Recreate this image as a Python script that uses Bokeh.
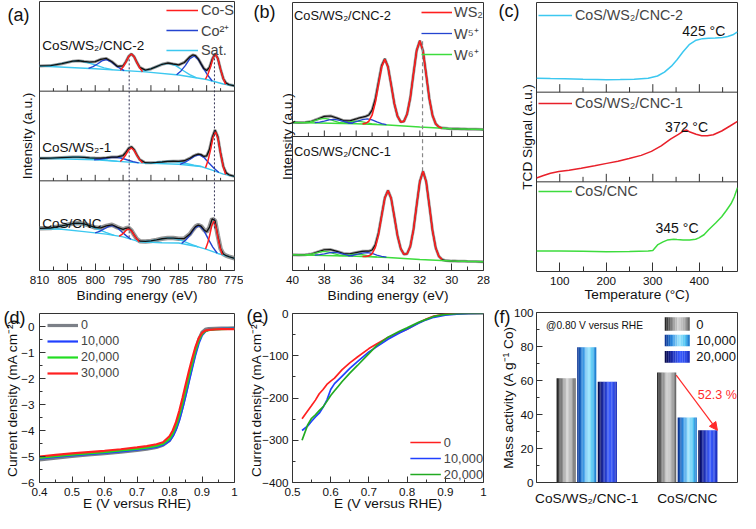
import numpy as np
from bokeh.plotting import figure
from bokeh.layouts import row, column
from bokeh.models import (Range1d, Span, Label, Legend, LegendItem, FixedTicker,
                          BoxAnnotation, Arrow, NormalHead, LinearAxis)
from bokeh.embed import file_html
from bokeh.resources import INLINE

# ============================ DATA ============================
# (a) Co 2p XPS - band-local intensity (each band spans 1 unit)
A_SAMPLES = ["CoS/CNC", "CoS/WS₂-1", "CoS/WS₂/CNC-2"]   # bottom -> top
A_XTICKS = [810, 805, 800, 795, 790, 785, 780, 775]
A_XMINOR = [807.5, 802.5, 797.5, 792.5, 787.5, 782.5, 777.5]
A_ENV_X = [810, 808, 806, 804, 803, 802, 801, 800, 799, 798, 797, 796, 795, 794.5, 794,
           793.5, 793, 792.5, 792, 791, 790, 789, 788, 787, 786, 785, 784, 783, 782.5, 782,
           781.5, 781, 780.5, 780, 779.5, 779, 778.5, 778, 777.5, 777, 776.5, 776, 775]
A_ENV_TOP = [0.282, 0.285, 0.306, 0.335, 0.339, 0.331, 0.324, 0.329, 0.355, 0.365,
             0.328, 0.276, 0.281, 0.328, 0.387, 0.415, 0.383, 0.319, 0.265, 0.235,
             0.248, 0.274, 0.300, 0.314, 0.303, 0.293, 0.320, 0.384, 0.404, 0.396,
             0.360, 0.305, 0.252, 0.230, 0.265, 0.356, 0.418, 0.367, 0.243, 0.138,
             0.089, 0.073, 0.060]
A_ENV_MID = [0.252, 0.253, 0.259, 0.265, 0.265, 0.262, 0.257, 0.254, 0.253, 0.258,
             0.265, 0.266, 0.282, 0.318, 0.363, 0.380, 0.347, 0.286, 0.236, 0.202,
             0.201, 0.205, 0.210, 0.216, 0.219, 0.218, 0.224, 0.252, 0.272, 0.288,
             0.297, 0.292, 0.272, 0.278, 0.348, 0.482, 0.567, 0.493, 0.311, 0.159,
             0.089, 0.067, 0.050]
A_ENV_BOT = [0.470, 0.474, 0.497, 0.524, 0.529, 0.520, 0.500, 0.479, 0.475, 0.497,
             0.510, 0.481, 0.459, 0.471, 0.476, 0.447, 0.395, 0.349, 0.327, 0.324,
             0.330, 0.341, 0.354, 0.362, 0.362, 0.355, 0.356, 0.407, 0.451, 0.490,
             0.507, 0.494, 0.455, 0.431, 0.480, 0.577, 0.556, 0.390, 0.243, 0.184,
             0.165, 0.154, 0.136]
A_BG_TOP_X = [810, 800, 791, 785, 780, 777, 775]
A_BG_TOP = [0.28, 0.25, 0.215, 0.18, 0.13, 0.08, 0.06]
A_BG_MID_X = [810, 800, 792, 785, 781, 779, 777, 775]
A_BG_MID = [0.25, 0.235, 0.20, 0.185, 0.16, 0.12, 0.075, 0.05]
A_BG_BOT_X = [810, 806, 802, 798, 795, 792, 788, 785, 782, 780, 778, 776, 775]
A_BG_BOT = [0.469, 0.46, 0.433, 0.406, 0.375, 0.32, 0.31, 0.307, 0.271, 0.235, 0.19, 0.154, 0.136]

A_SAT_TOP_X = [[808.9, 807.4, 805.9, 804.4, 802.9, 801.4, 799.9, 798.4, 796.9],
               [791.8, 790.55, 789.3, 788.05, 786.8, 785.55, 784.3, 783.05, 781.8]]
A_SAT_TOP = [[0.28, 0.29, 0.31, 0.33, 0.34, 0.32, 0.29, 0.26, 0.24],
             [0.218, 0.237, 0.265, 0.299, 0.31, 0.284, 0.233, 0.185, 0.148]]
A_CO2_TOP_X = [[801.2, 800.4, 799.6, 798.8, 798.0, 797.2, 796.4, 795.6, 794.8],
               [785.4, 784.6, 783.8, 783.0, 782.2, 781.4, 780.6, 779.8, 779.0]]
A_CO2_TOP = [[0.254, 0.274, 0.303, 0.337, 0.352, 0.331, 0.291, 0.256, 0.229],
             [0.182, 0.226, 0.288, 0.362, 0.392, 0.346, 0.256, 0.177, 0.113]]
A_COS_TOP_X = [[795.5, 795.0, 794.5, 794.0, 793.5, 793.0, 792.5, 792.0, 791.5],
               [780.2, 779.75, 779.3, 778.85, 778.4, 777.95, 777.5, 777.05, 776.6]]
A_COS_TOP = [[0.232, 0.27, 0.323, 0.386, 0.415, 0.383, 0.316, 0.259, 0.217],
             [0.133, 0.191, 0.273, 0.371, 0.413, 0.356, 0.243, 0.146, 0.076]]

A_SAT_MID_X = [[810, 808.25, 806.5, 804.75, 803, 801.25, 799.5, 797.75, 796],
               [791, 789.75, 788.5, 787.25, 786, 784.75, 783.5, 782.25, 781]]
A_SAT_MID = [[0.25, 0.252, 0.257, 0.263, 0.265, 0.258, 0.246, 0.23, 0.217],
             [0.198, 0.201, 0.208, 0.215, 0.217, 0.208, 0.191, 0.174, 0.16]]
A_CO2_MID_X = [[800.2, 799.2, 798.2, 797.2, 796.2, 795.2, 794.2, 793.2, 792.2],
               [784.8, 783.93, 783.05, 782.18, 781.3, 780.43, 779.55, 778.68, 777.8]]
A_CO2_MID = [[0.235, 0.240, 0.25, 0.26, 0.263, 0.252, 0.232, 0.214, 0.201],
             [0.184, 0.205, 0.238, 0.276, 0.292, 0.258, 0.196, 0.140, 0.093]]
A_COS_MID_X = [[795.5, 795.0, 794.5, 794.0, 793.5, 793.0, 792.5, 792.0, 791.5],
               [780.2, 779.75, 779.3, 778.85, 778.4, 777.95, 777.5, 777.05, 776.6]]
A_COS_MID = [[0.215, 0.247, 0.291, 0.343, 0.367, 0.338, 0.282, 0.234, 0.199],
             [0.145, 0.227, 0.346, 0.486, 0.546, 0.466, 0.306, 0.168, 0.07]]

A_SAT_BOT_X = [[808.6, 807.1, 805.6, 804.1, 802.6, 801.1, 799.6, 798.1, 796.6],
               [791.5, 790.25, 789, 787.75, 786.5, 785.25, 784, 782.75, 781.5]]
A_SAT_BOT = [[0.466, 0.482, 0.502, 0.523, 0.527, 0.502, 0.462, 0.426, 0.392],
             [0.320, 0.329, 0.341, 0.357, 0.363, 0.352, 0.322, 0.292, 0.262]]
A_CO2_BOT_X = [[800, 799.2, 798.4, 797.6, 796.8, 796, 795.2, 794.4, 793.6],
               [784.5, 783.7, 782.9, 782.1, 781.3, 780.5, 779.7, 778.9, 778.1]]
A_CO2_BOT = [[0.420, 0.437, 0.463, 0.492, 0.501, 0.476, 0.430, 0.386, 0.349],
             [0.301, 0.343, 0.403, 0.476, 0.501, 0.448, 0.350, 0.261, 0.192]]
A_COS_BOT_X = [[795.7, 795.25, 794.8, 794.35, 793.9, 793.45, 793, 792.55, 792.1],
               [780.2, 779.825, 779.45, 779.075, 778.7, 778.325, 777.95, 777.575, 777.2]]
A_COS_BOT = [[0.382, 0.400, 0.425, 0.454, 0.463, 0.438, 0.393, 0.353, 0.322],
             [0.239, 0.303, 0.393, 0.501, 0.548, 0.484, 0.360, 0.254, 0.176]]
A_PEAK_LINES_X = [793.9, 778.6]
A_PEAK_LINES_Y0 = [0.37, 0.47]
A_PEAK_LINES_Y1 = [2.36, 2.40]

# (b) W 4f XPS
B_SAMPLES = ["CoS/WS₂/CNC-1", "CoS/WS₂/CNC-2"]   # bottom -> top
B_XTICKS = [40, 38, 36, 34, 32, 30, 28]
B_XMINOR = [39, 37, 35, 33, 31, 29]
B_X = [40.0, 39.6, 39.2, 38.8, 38.4, 38.0, 37.6, 37.2, 36.8, 36.4,
       36.0, 35.8, 35.6, 35.4, 35.2, 35.0, 34.8, 34.6, 34.4, 34.2, 34.0, 33.8,
       33.6, 33.4, 33.2, 33.0, 32.8, 32.6, 32.4, 32.2, 32.0, 31.8, 31.6, 31.4,
       31.2, 31.0, 30.8, 30.6, 30.4, 30.2, 30.0, 29.8, 29.6, 29.4, 29.2, 29.0,
       28.5, 28.0]
B_ENV_TOP = [0.105, 0.104, 0.105, 0.113, 0.131, 0.150, 0.153, 0.137, 0.119, 0.117,
             0.131, 0.139, 0.144, 0.150, 0.161, 0.197, 0.278, 0.404, 0.529, 0.580, 0.520, 0.385,
             0.244, 0.151, 0.109, 0.113, 0.168, 0.288, 0.468, 0.642, 0.715, 0.639, 0.462, 0.280,
             0.156, 0.094, 0.071, 0.063, 0.061, 0.059, 0.058, 0.057, 0.057, 0.056, 0.056, 0.055,
             0.054, 0.052]
B_ENV_BOT = [0.117, 0.116, 0.117, 0.123, 0.139, 0.155, 0.156, 0.143, 0.127, 0.124,
             0.134, 0.139, 0.143, 0.144, 0.144, 0.153, 0.191, 0.278, 0.411, 0.543, 0.598, 0.538,
             0.400, 0.258, 0.163, 0.121, 0.125, 0.180, 0.304, 0.488, 0.665, 0.741, 0.663, 0.482,
             0.296, 0.168, 0.105, 0.082, 0.074, 0.072, 0.070, 0.070, 0.069, 0.069, 0.069, 0.068,
             0.067, 0.065]
B_WS2_X = [35.6, 35.4, 35.2, 35.0, 34.8, 34.6, 34.4, 34.2, 34.0, 33.8, 33.6, 33.4, 33.2,
           33.0, 32.8, 32.6, 32.4, 32.2, 32.0, 31.8, 31.6, 31.4, 31.2, 31.0, 30.8, 30.6]
B_WS2_TOP = [0.094, 0.098, 0.114, 0.159, 0.251, 0.388, 0.520, 0.576, 0.518, 0.384, 0.244,
             0.151, 0.109, 0.113, 0.168, 0.288, 0.468, 0.642, 0.715, 0.639, 0.462, 0.280,
             0.156, 0.094, 0.071, 0.063]
B_WS2_BOT = [0.105, 0.105, 0.109, 0.125, 0.171, 0.266, 0.405, 0.540, 0.597, 0.538, 0.400,
             0.258, 0.163, 0.121, 0.125, 0.180, 0.304, 0.488, 0.665, 0.741, 0.663, 0.482,
             0.296, 0.168, 0.105, 0.082]
B_W5_X = [[36.5, 36.2, 35.9, 35.6, 35.3, 35.0, 34.7, 34.4, 34.1],
          [38.6, 38.3, 38.0, 37.7, 37.4, 37.1, 36.8, 36.5, 36.2]]
B_W5_TOP = [[0.0985, 0.104, 0.1145, 0.1266, 0.1315, 0.1236, 0.1085, 0.0954, 0.088],
            [0.1034, 0.1071, 0.115, 0.1245, 0.1285, 0.123, 0.112, 0.1026, 0.0974]]
B_W5_BOT = [[0.1099, 0.1138, 0.1215, 0.1302, 0.1335, 0.1272, 0.1155, 0.1053, 0.0994],
            [0.1151, 0.118, 0.1245, 0.1323, 0.1355, 0.1308, 0.1215, 0.1136, 0.1091]]
B_W6_X = [[37.1, 36.8, 36.5, 36.2, 35.9, 35.6, 35.3, 35.0, 34.7],
          [39.2, 38.9, 38.6, 38.3, 38.0, 37.7, 37.4, 37.1, 36.8]]
B_W6_TOP = [[0.099, 0.1012, 0.1063, 0.1123, 0.1145, 0.1098, 0.1015, 0.0942, 0.0898],
            [0.1052, 0.1096, 0.119, 0.1302, 0.135, 0.1287, 0.116, 0.1052, 0.0992]]
B_W6_BOT = [[0.1107, 0.1122, 0.1158, 0.1201, 0.1215, 0.1176, 0.1109, 0.1051, 0.1014],
            [0.1169, 0.1206, 0.1285, 0.138, 0.142, 0.1365, 0.1255, 0.1161, 0.1109]]
B_BASE_X = [40, 36, 34, 32, 30, 28]
B_BASE_TOP = [0.105, 0.095, 0.085, 0.070, 0.058, 0.052]
B_BASE_BOT = [0.117, 0.107, 0.097, 0.082, 0.070, 0.065]
B_REF_LINE_X = 31.83
B_REF_LINE_Y = [0.74, 1.73]

# (c) TPR (band-local TCD signal)
C_XTICKS = [100, 200, 300, 400]
C_XMINOR = [150, 250, 350, 450]
C_T_TOP = [50, 80, 110, 150, 180, 200, 230, 260, 290, 310, 325, 340, 352, 365, 379, 393,
           407, 420, 434, 450, 461, 472, 482]
C_TOP = [0.155, 0.152, 0.150, 0.143, 0.140, 0.138, 0.140, 0.145, 0.155, 0.180, 0.224, 0.290,
         0.362, 0.450, 0.534, 0.580, 0.597, 0.600, 0.603, 0.610, 0.620, 0.640, 0.672]
C_T_MID = [50, 65, 80, 98, 120, 146, 175, 201, 225, 249, 275, 297, 318, 338, 355, 368, 372,
           380, 393, 405, 417, 430, 448, 465, 482]
C_MID = [0.043, 0.070, 0.095, 0.115, 0.130, 0.152, 0.180, 0.206, 0.230, 0.260, 0.295, 0.340,
         0.400, 0.476, 0.530, 0.574, 0.578, 0.555, 0.530, 0.515, 0.513, 0.525, 0.567, 0.620, 0.675]
C_T_BOT = [50, 100, 150, 200, 250, 290, 300, 311, 322, 331, 345, 352, 365, 379, 392, 399,
           410, 420, 435, 448, 458, 468, 475, 482]
C_BOT = [0.228, 0.228, 0.226, 0.220, 0.224, 0.228, 0.235, 0.300, 0.330, 0.350, 0.360, 0.357,
         0.352, 0.350, 0.360, 0.375, 0.410, 0.466, 0.540, 0.610, 0.680, 0.755, 0.830, 0.935]
C_PEAKS = ["345 °C", "372 °C", "425 °C"]                 # bottom -> top
C_PEAK_T = [352, 372.6, 409.6]
C_PEAK_Y = [0.48, 1.61, 2.68]

# (d) LSV stability
D_E = [0.40, 0.45, 0.50, 0.55, 0.60, 0.65, 0.70, 0.73, 0.76, 0.78, 0.80, 0.81, 0.82, 0.83,
       0.84, 0.85, 0.86, 0.87, 0.88, 0.89, 0.90, 0.91, 0.92, 0.94, 0.96, 0.98, 1.00]
D_0 = [-5.13, -5.06, -5.00, -4.94, -4.89, -4.83, -4.77, -4.72, -4.65, -4.57, -4.38, -4.18,
       -3.90, -3.52, -3.05, -2.53, -1.98, -1.45, -0.93, -0.50, -0.22, -0.11, -0.08, -0.07,
       -0.06, -0.06, -0.05]
D_10000 = [-5.08, -5.02, -4.96, -4.91, -4.86, -4.80, -4.74, -4.69, -4.63, -4.56, -4.40, -4.22,
           -3.96, -3.60, -3.14, -2.63, -2.10, -1.58, -1.07, -0.64, -0.34, -0.19, -0.13, -0.10,
           -0.09, -0.08, -0.07]
D_20000 = [-5.05, -4.99, -4.93, -4.88, -4.83, -4.77, -4.71, -4.66, -4.59, -4.51, -4.32, -4.12,
           -3.83, -3.43, -2.95, -2.43, -1.90, -1.40, -0.92, -0.54, -0.30, -0.18, -0.14, -0.11,
           -0.10, -0.09, -0.09]
D_30000 = [-5.00, -4.94, -4.88, -4.83, -4.78, -4.72, -4.65, -4.60, -4.53, -4.45, -4.22, -4.00,
           -3.68, -3.25, -2.75, -2.22, -1.70, -1.22, -0.78, -0.45, -0.25, -0.16, -0.13, -0.11,
           -0.10, -0.10, -0.10]
D_XTICKS = [0.4, 0.5, 0.6, 0.7, 0.8, 0.9, 1.0]
D_XMINOR = [0.45, 0.55, 0.65, 0.75, 0.85, 0.95]
D_YTICKS = [0, -1, -2, -3, -4, -5, -6]
D_YMINOR = [-0.5, -1.5, -2.5, -3.5, -4.5, -5.5]

# (e) LSV, larger current
E_E = [0.525, 0.54, 0.55, 0.56, 0.57, 0.58, 0.59, 0.60, 0.61, 0.62, 0.63, 0.65, 0.67, 0.70,
       0.72, 0.75, 0.78, 0.80, 0.83, 0.85, 0.87, 0.90, 0.93, 0.96, 1.00]
E_0 = [-249, -230, -218, -205, -190, -180, -168, -160, -153, -143, -133, -117, -103, -83,
       -72, -57, -45, -37, -22, -13, -6, -1.5, -0.5, 0, 0]
E_10000 = [-277, -266, -255, -245, -236, -222, -205, -180, -166, -157, -148, -130, -114, -91,
           -79, -61, -46, -37, -23, -15, -9, -4, -1.5, -0.5, 0]
E_20000 = [-300, -263, -248, -240, -230, -221, -208, -194, -183, -172, -161, -141, -123, -95,
           -76, -56, -42, -34, -21, -14, -7, -2, -0.5, 0, 0]
E_XTICKS = [0.5, 0.6, 0.7, 0.8, 0.9, 1.0]
E_XMINOR = [0.55, 0.65, 0.75, 0.85, 0.95]
E_YTICKS = [0, -100, -200, -300, -400]
E_YMINOR = [-50, -150, -250, -350]

# (f) mass activity
F_GROUPS = ["CoS/WS₂/CNC-1", "CoS/CNC"]
F_CYCLES = ["0", "10,000", "20,000"]
F_0 = [61.3, 64.7]
F_10000 = [79.5, 38.3]
F_20000 = [59.3, 30.7]
F_YTICKS = [0, 20, 40, 60, 80, 100]
F_YMINOR = [10, 30, 50, 70, 90]

# ============================ STYLE ============================
FONT = "Liberation Sans"
TICK_FS = "11.7px"
TITLE_FS = "13.7px"
PANEL_FS = "18px"
RED = "#ff1e1e"
BLUE = "#2444d0"
CYAN = "#3cc8f0"
GREEN = "#3ddc3d"
GRAYRAW = "#8c8c8c"
FRAME = "#333333"


def base_fig(w, h, xr, yr, ml, mr, mt, mb):
    p = figure(width=w, height=h, x_range=xr, y_range=yr, output_backend="svg",
               toolbar_location=None, title=None,
               min_border_left=ml, min_border_right=mr, min_border_top=mt, min_border_bottom=mb)
    p.xgrid.visible = False
    p.ygrid.visible = False
    p.outline_line_color = FRAME
    p.outline_line_width = 1
    p.background_fill_color = "white"
    p.border_fill_color = "white"
    for ax in p.axis:
        ax.axis_line_color = None
        ax.major_label_text_font = FONT
        ax.axis_label_text_font = FONT
        ax.axis_label_text_font_style = "normal"
        ax.major_label_text_font_size = TICK_FS
        ax.axis_label_text_font_size = TITLE_FS
        ax.major_label_text_color = "#111111"
        ax.axis_label_text_color = "#111111"
        ax.major_tick_line_color = FRAME
        ax.minor_tick_line_color = FRAME
        ax.major_tick_out = 0
        ax.minor_tick_out = 0
        ax.major_tick_in = 6
        ax.minor_tick_in = 3
    return p


def no_ticks_axis(ax, label, standoff):
    ax.ticker = FixedTicker(ticks=[])
    ax.axis_label = label
    ax.major_label_standoff = 0
    ax.axis_label_standoff = standoff
    ax.major_tick_in = 0
    ax.minor_tick_in = 0


def band_ticks(p, majors, minors, lo, hi, n_bands, frame_h, maj_px, min_px):
    unit = n_bands / frame_h
    xs, y0, y1 = [], [], []
    for b in range(1, n_bands):
        for vals, L in ((majors, maj_px), (minors, min_px)):
            for v in vals:
                if lo < v < hi:
                    xs.append(v)
                    y0.append(b)
                    y1.append(b + L * unit)
        p.add_layout(Span(location=b, dimension="width", line_color=FRAME, line_width=1))
    p.segment(x0=xs, y0=y0, x1=xs, y1=y1, line_color=FRAME, line_width=1)


def panel_label(p, text, y_value, standoff):
    # panel letter drawn as the only tick label of an extra, tick-less left axis
    ax = LinearAxis(ticker=FixedTicker(ticks=[y_value]),
                    major_label_overrides={y_value: text},
                    major_label_standoff=standoff,
                    major_tick_in=0, major_tick_out=0, minor_tick_in=0, minor_tick_out=0,
                    axis_line_color=None, major_tick_line_color=None,
                    minor_tick_line_color=None,
                    major_label_text_font=FONT, major_label_text_font_size=PANEL_FS,
                    major_label_text_color="#111111")
    p.add_layout(ax, "left")


def text_label(p, x, y, text, size, align="left", color="#111111"):
    p.add_layout(Label(x=x, y=y, text=text, text_font=FONT, text_font_size=size,
                       text_color=color, text_baseline="middle", text_align=align))


def shift(vals, off):
    return [v + off for v in vals]


def shift2(lists, off):
    return [[v + off for v in l] for l in lists]


TOP_H = 305

# ============================ (a) ============================
A_FH = 269
pa = base_fig(243, TOP_H, Range1d(810, 775), Range1d(0, 3), 34, 5, 1, TOP_H - 1 - A_FH)
pa.xaxis.ticker = FixedTicker(ticks=A_XTICKS, minor_ticks=A_XMINOR)
pa.xaxis.major_tick_in = 7
pa.xaxis.minor_tick_in = 4
pa.xaxis.axis_label = "Binding energy (eV)"
pa.xaxis.major_label_standoff = 5
pa.xaxis.axis_label_standoff = 1
no_ticks_axis(pa.yaxis[0], "Intensity (a.u.)", 5)
band_ticks(pa, A_XTICKS, A_XMINOR, 775, 810, 3, A_FH, 6, 3)

a_bands = [
    (A_ENV_BOT, A_BG_BOT_X, A_BG_BOT, A_SAT_BOT_X, A_SAT_BOT, A_CO2_BOT_X, A_CO2_BOT, A_COS_BOT_X, A_COS_BOT),
    (A_ENV_MID, A_BG_MID_X, A_BG_MID, A_SAT_MID_X, A_SAT_MID, A_CO2_MID_X, A_CO2_MID, A_COS_MID_X, A_COS_MID),
    (A_ENV_TOP, A_BG_TOP_X, A_BG_TOP, A_SAT_TOP_X, A_SAT_TOP, A_CO2_TOP_X, A_CO2_TOP, A_COS_TOP_X, A_COS_TOP),
]
a_leg = {}
for off, (env, bgx, bg, sx, sy, bx, by, rx, ry) in enumerate(a_bands):
    raw_w = 4.5 if off == 0 else 3
    pa.line(A_ENV_X, shift(env, off), line_color=GRAYRAW, line_width=raw_w, line_alpha=0.9)
    pa.line(bgx, shift(bg, off), line_color=CYAN, line_width=1.4)
    r_sat = pa.multi_line(sx, shift2(sy, off), line_color=CYAN, line_width=1.4)
    r_co2 = pa.multi_line(bx, shift2(by, off), line_color=BLUE, line_width=1.4)
    pa.line(A_ENV_X, shift(env, off), line_color="#111111", line_width=1.3)
    r_cos = pa.multi_line(rx, shift2(ry, off), line_color=RED, line_width=1.5)
    a_leg = {"Co-S": r_cos, "Co²⁺": r_co2, "Sat.": r_sat}
pa.segment(x0=A_PEAK_LINES_X, y0=A_PEAK_LINES_Y0, x1=A_PEAK_LINES_X, y1=A_PEAK_LINES_Y1,
           line_color="#333355", line_width=1, line_dash="2 2")
for i, name in enumerate(A_SAMPLES):
    ly = [0.52, 0.37, 0.505][i]
    text_label(pa, 809.5, i + ly, name, "13.5px")
leg_a = Legend(items=[LegendItem(label=k, renderers=[v]) for k, v in a_leg.items()],
               location="top_right", margin=0, padding=0, spacing=1,
               glyph_width=32, glyph_height=18, label_height=18, label_standoff=3,
               label_text_font=FONT, label_text_font_size="14.5px",
               border_line_color=None, background_fill_alpha=0)
pa.add_layout(leg_a)
panel_label(pa, "(a)", 2.85, -13)

# ============================ (b) ============================
B_FH = 268
pb = base_fig(247, TOP_H, Range1d(40, 28), Range1d(0, 2), 38, 7, 2, TOP_H - 2 - B_FH)
pb.xaxis.ticker = FixedTicker(ticks=B_XTICKS, minor_ticks=B_XMINOR)
pb.xaxis.major_tick_in = 7
pb.xaxis.minor_tick_in = 4
pb.xaxis.axis_label = "Binding energy (eV)"
pb.xaxis.major_label_standoff = 5
pb.xaxis.axis_label_standoff = 1
no_ticks_axis(pb.yaxis[0], "Intensity (a.u.)", -2)
band_ticks(pb, B_XTICKS, B_XMINOR, 28, 40, 2, B_FH, 6, 4)
b_bands = [
    (B_ENV_BOT, B_WS2_BOT, B_W5_BOT, B_W6_BOT, B_BASE_BOT),
    (B_ENV_TOP, B_WS2_TOP, B_W5_TOP, B_W6_TOP, B_BASE_TOP),
]
b_leg = {}
for off, (env, ws2, w5, w6, base) in enumerate(b_bands):
    pb.line(B_X, shift(env, off), line_color=GRAYRAW, line_width=3, line_alpha=0.85)
    pb.line(B_X, shift(env, off), line_color="#111111", line_width=1.2)
    r_w6 = pb.line(B_BASE_X, shift(base, off), line_color=GREEN, line_width=1.5)
    pb.multi_line(B_W6_X, shift2(w6, off), line_color=GREEN, line_width=1.3)
    r_w5 = pb.multi_line(B_W5_X, shift2(w5, off), line_color=BLUE, line_width=1.3)
    r_ws2 = pb.line(B_WS2_X, shift(ws2, off), line_color=RED, line_width=1.6)
    b_leg = {"WS₂": r_ws2, "W⁵⁺": r_w5, "W⁶⁺": r_w6}
pb.line([B_REF_LINE_X, B_REF_LINE_X], B_REF_LINE_Y, line_color="#888888", line_width=1.2,
        line_dash="4 3")
for i, name in enumerate(B_SAMPLES):
    text_label(pb, 39.9, i + [0.89, 0.906][i], name, "12.8px")
leg_b = Legend(items=[LegendItem(label=k, renderers=[v]) for k, v in b_leg.items()],
               location="top_right", margin=0, padding=0, spacing=1,
               glyph_width=31, glyph_height=20, label_height=20, label_standoff=2,
               label_text_font=FONT, label_text_font_size="14.5px",
               border_line_color=None, background_fill_alpha=0)
pb.add_layout(leg_b)
panel_label(pb, "(b)", 1.93, 1)

# ============================ (c) ============================
C_H = 305
C_FH = 269
pc = base_fig(250, C_H, Range1d(50, 482), Range1d(0, 3), 41, 3, 2, C_H - 2 - C_FH)
pc.xaxis.ticker = FixedTicker(ticks=C_XTICKS, minor_ticks=C_XMINOR)
pc.xaxis.major_tick_in = 9
pc.xaxis.minor_tick_in = 5
pc.xaxis.axis_label = "Temperature (°C)"
pc.xaxis.major_label_standoff = 5
pc.xaxis.axis_label_standoff = -1
no_ticks_axis(pc.yaxis[0], "TCD Signal (a.u.)", 2)
band_ticks(pc, C_XTICKS, C_XMINOR, 50, 482, 3, C_FH, 8, 5)
c_series = [("CoS/CNC", C_T_BOT, C_BOT, GREEN, 71),
            ("CoS/WS₂/CNC-1", C_T_MID, C_MID, "#e8202a", 159),
            ("CoS/WS₂/CNC-2", C_T_TOP, C_TOP, CYAN, 247)]
for off, (name, tx, ty, col, ly) in enumerate(c_series):
    r = pc.line(tx, shift(ty, off), line_color=col, line_width=1.5)
    lg = Legend(items=[LegendItem(label=name, renderers=[r])], location=(2, ly),
                margin=0, padding=0, glyph_width=34, glyph_height=18, label_height=18,
                label_standoff=3, label_text_font=FONT, label_text_font_size="14.3px",
                border_line_color=None, background_fill_alpha=0)
    pc.add_layout(lg)
for name, tx, ty in zip(C_PEAKS, C_PEAK_T, C_PEAK_Y):
    text_label(pc, tx, ty, name, "14px", align="center")
panel_label(pc, "(c)", 2.90, -3)

# ============================ (d) ============================
BOT_H = 513 - TOP_H
pd_ = base_fig(243, BOT_H, Range1d(0.4, 1.0), Range1d(-6, 0.5), 34, 9, 8, BOT_H - 8 - 169)
pd_.xaxis.ticker = FixedTicker(ticks=D_XTICKS, minor_ticks=D_XMINOR)
pd_.yaxis.ticker = FixedTicker(ticks=D_YTICKS, minor_ticks=D_YMINOR)
pd_.xaxis.axis_label = "E (V versus RHE)"
pd_.yaxis.axis_label = "Current density (mA cm⁻²)"
pd_.xaxis.major_label_standoff = 5
pd_.xaxis.axis_label_standoff = -3
pd_.yaxis.major_label_standoff = 5
pd_.yaxis.axis_label_standoff = -2
d_series = [("0", D_0, "#7c8088", 3.2), ("10,000", D_10000, "#2040ff", 2.2),
            ("20,000", D_20000, "#22dd22", 2.2), ("30,000", D_30000, "#ff2020", 2.2)]
d_items = []
for name, ys, col, lw in d_series:
    r = pd_.line(D_E, ys, line_color=col, line_width=lw)
    d_items.append(LegendItem(label=name, renderers=[r]))
leg_d = Legend(items=d_items, location=(8, 101), margin=0, padding=0, spacing=0,
               glyph_width=31, glyph_height=16, label_height=16, label_standoff=3,
               label_text_font=FONT, label_text_font_size="12.5px",
               border_line_color=None, background_fill_alpha=0)
pd_.add_layout(leg_d)
panel_label(pd_, "(d)", 0.31, -23)

# ============================ (e) ============================
pe = base_fig(247, BOT_H, Range1d(0.5, 1.0), Range1d(-400, 0), 40, 7, 8, BOT_H - 8 - 169)
pe.xaxis.ticker = FixedTicker(ticks=E_XTICKS, minor_ticks=E_XMINOR)
pe.yaxis.ticker = FixedTicker(ticks=E_YTICKS, minor_ticks=E_YMINOR)
pe.xaxis.axis_label = "E (V versus RHE)"
pe.yaxis.axis_label = "Current density (mA cm⁻²)"
pe.xaxis.major_label_standoff = 5
pe.xaxis.axis_label_standoff = -3
pe.yaxis.major_label_standoff = 4
pe.yaxis.axis_label_standoff = -5
e_series = [("0", E_0, "#ff2020"), ("10,000", E_10000, "#2040ff"), ("20,000", E_20000, "#22aa22")]
e_items = []
for name, ys, col in e_series:
    r = pe.line(E_E, ys, line_color=col, line_width=1.7)
    e_items.append(LegendItem(label=name, renderers=[r]))
leg_e = Legend(items=e_items, location="bottom_right", margin=0, padding=3, spacing=0,
               glyph_width=31, glyph_height=16, label_height=16, label_standoff=3,
               label_text_font=FONT, label_text_font_size="12.8px",
               border_line_color=None, background_fill_alpha=0)
pe.add_layout(leg_e)
panel_label(pe, "(e)", -5, -22)

# ============================ (f) ============================
F_H = 513 - C_H
pf = base_fig(250, F_H, Range1d(0, 2), Range1d(0, 100), 41, 3, 7, F_H - 7 - 170)
F_CENTERS = [0.5, 1.5]
F_OFFS = [-0.205, 0.0, 0.205]
BAR_W = 0.19
pf.xaxis.ticker = FixedTicker(ticks=F_CENTERS)
pf.xaxis.major_label_overrides = {c: g for c, g in zip(F_CENTERS, F_GROUPS)}
pf.xaxis.major_label_text_font_size = "13.7px"
pf.xaxis.major_tick_in = 0
pf.xaxis.major_label_standoff = 8
pf.yaxis.ticker = FixedTicker(ticks=F_YTICKS, minor_ticks=F_YMINOR)
pf.yaxis.axis_label = "Mass activity (A g⁻¹ Co)"
pf.yaxis.major_label_standoff = 3
pf.yaxis.axis_label_standoff = -5

GRAD_GRAY = [(0, "#181818"), (0.25, "#7a7a7a"), (0.55, "#d6d6d6"), (0.8, "#a9a9a9"), (1, "#5c5c5c")]
GRAD_CYAN = [(0, "#0a2a8a"), (0.28, "#2a8ae0"), (0.58, "#a6eaff"), (0.82, "#4cc2f2"), (1, "#1a6ec8")]
GRAD_BLUE = [(0, "#04043e"), (0.28, "#1a2aaa"), (0.6, "#3a5cff"), (0.85, "#2a48e6"), (1, "#1a2ab0")]


def _rgb(h):
    return tuple(int(h[i:i + 2], 16) for i in (1, 3, 5))


def grad(stops, t):
    for (t0, c0), (t1, c1) in zip(stops[:-1], stops[1:]):
        if t <= t1:
            f = (t - t0) / (t1 - t0)
            a, b = _rgb(c0), _rgb(c1)
            return "#%02x%02x%02x" % tuple(int(round(a[i] + (b[i] - a[i]) * f)) for i in range(3))
    return stops[-1][1]


N_STRIP = 14
f_series = [(F_0, GRAD_GRAY), (F_10000, GRAD_CYAN), (F_20000, GRAD_BLUE)]
for (vals, stops), off in zip(f_series, F_OFFS):
    for j in range(N_STRIP):
        t = (j + 0.5) / N_STRIP
        xs = [c + off - BAR_W / 2 + t * BAR_W for c in F_CENTERS]
        pf.vbar(x=xs, width=BAR_W / N_STRIP * 1.08, top=vals, bottom=0,
                fill_color=grad(stops, t), line_color=None)

# legend swatches (annotation)
F_LEG_X0, F_LEG_X1 = 1.276, 1.524
F_LEG_ROWS = [(89.2, 97.2), (80.1, 86.9), (70.5, 77.3)]
F_LEG_TX = 1.59
for (bot, top), (vals, stops), name in zip(F_LEG_ROWS, f_series, F_CYCLES):
    for j in range(N_STRIP):
        t = (j + 0.5) / N_STRIP
        l = F_LEG_X0 + j * (F_LEG_X1 - F_LEG_X0) / N_STRIP
        r = F_LEG_X0 + (j + 1.08) * (F_LEG_X1 - F_LEG_X0) / N_STRIP
        pf.add_layout(BoxAnnotation(left=l, right=r, bottom=bot, top=top,
                                    fill_color=grad(stops, t), fill_alpha=1, line_color=None))
    text_label(pf, F_LEG_TX, (bot + top) / 2, name, "13px")

text_label(pf, 0.095, 92.6, "@0.80 V versus RHE", "10.2px")
g2 = 1
x_start = F_CENTERS[g2] + F_OFFS[0] + BAR_W / 2
x_end = F_CENTERS[g2] + F_OFFS[2] + BAR_W / 2
pf.add_layout(Arrow(end=NormalHead(size=8, fill_color="#ff2a2a", line_color="#ff2a2a"),
                    x_start=x_start, y_start=F_0[g2] - 1.5, x_end=x_end, y_end=F_20000[g2],
                    line_color="#ff2a2a", line_width=1.2))
text_label(pf, 1.80, 51.7, "52.3 %", "12.6px", align="center", color="#ff2a2a")
panel_label(pf, "(f)", 97.3, -13)

layout = row(column(pa, pd_), column(pb, pe), column(pc, pf))
open("out.html", "w").write(file_html(layout, INLINE))
